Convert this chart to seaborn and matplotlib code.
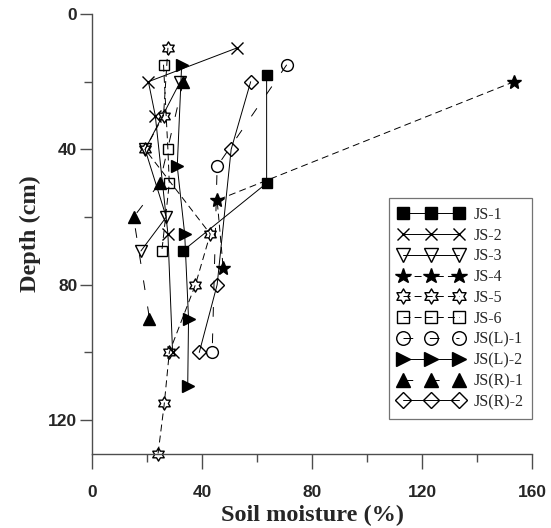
import matplotlib
matplotlib.use("Agg")
from matplotlib import pyplot as plt
from matplotlib.path import Path
from matplotlib.ticker import MultipleLocator
import seaborn as sns

# soil moisture (%) against depth (cm) for each profile
js1_depth = [18, 50, 70]
js1_moisture = [63.5, 63.5, 33.0]

js2_depth = [10, 20, 30, 65, 100]
js2_moisture = [52.8, 20.5, 23.0, 27.6, 29.3]

js3_depth = [20, 40, 60, 70]
js3_moisture = [32.1, 19.3, 27.0, 17.8]

js4_depth = [20, 55, 75]
js4_moisture = [153.5, 45.5, 47.7]

js5_depth = [10, 30, 40, 65, 80, 100, 115, 130]
js5_moisture = [27.6, 26.0, 19.3, 43.0, 37.6, 28.1, 26.3, 24.0]

js6_depth = [15, 40, 50, 70]
js6_moisture = [26.0, 27.6, 28.1, 25.4]

jsl1_depth = [15, 45, 100]
jsl1_moisture = [70.8, 45.5, 43.7]

jsl2_depth = [15, 45, 65, 90, 110]
jsl2_moisture = [32.6, 31.0, 33.7, 35.1, 34.8]

jsr1_depth = [20, 50, 60, 90]
jsr1_moisture = [33.2, 24.6, 15.1, 20.9]

jsr2_depth = [20, 40, 80, 100]
jsr2_moisture = [57.7, 50.6, 45.5, 39.0]

sns.set_style("ticks")
plt.rcParams["font.family"] = ["Liberation Sans", "DejaVu Sans"]
plt.rcParams["lines.scale_dashes"] = False

hexagram = Path.unit_regular_star(6, 0.58)
solid = "-"
short_dash = (0, (5, 3))
long_dash = (0, (7, 12))

# label, x, y, marker, size, filled, linestyle
series = [
    ("JS-1", js1_moisture, js1_depth, "s", 7, True, solid),
    ("JS-2", js2_moisture, js2_depth, "x", 8, False, solid),
    ("JS-3", js3_moisture, js3_depth, "v", 8.5, False, solid),
    ("JS-4", js4_moisture, js4_depth, "*", 10, True, short_dash),
    ("JS-5", js5_moisture, js5_depth, hexagram, 9.5, False, short_dash),
    ("JS-6", js6_moisture, js6_depth, "s", 7, False, short_dash),
    ("JS(L)-1", jsl1_moisture, jsl1_depth, "o", 8.5, False, long_dash),
    ("JS(L)-2", jsl2_moisture, jsl2_depth, ">", 8.5, True, solid),
    ("JS(R)-1", jsr1_moisture, jsr1_depth, "^", 8.5, True, long_dash),
    ("JS(R)-2", jsr2_moisture, jsr2_depth, "D", 7.5, False, solid),
]

fig = plt.figure(figsize=(5.51, 5.28), dpi=100)
ax = fig.add_axes([0.167, 0.1402, 0.7985, 0.8333])

for name, moisture, depth, marker, size, filled, ls in series:
    sns.lineplot(x=moisture, y=depth, ax=ax, sort=False, estimator=None,
                 color="black", linewidth=0.7, linestyle=ls,
                 marker=marker, markersize=size,
                 markerfacecolor="black" if filled else "none",
                 markeredgecolor="black", markeredgewidth=1.0,
                 clip_on=False, label=name, legend=False)

ax.set_xlim(0, 160)
ax.set_ylim(130, 0)
ax.xaxis.set_major_locator(MultipleLocator(40))
ax.xaxis.set_minor_locator(MultipleLocator(20))
ax.yaxis.set_major_locator(MultipleLocator(40))
ax.yaxis.set_minor_locator(MultipleLocator(20))

sns.despine(ax=ax)
for side in ["left", "bottom"]:
    ax.spines[side].set_color("0.3")
    ax.spines[side].set_linewidth(1.0)

ax.tick_params(which="major", length=10.5, width=1, color="0.3")
ax.tick_params(which="minor", length=5.5, width=1, color="0.3")
ax.tick_params(axis="x", which="major", pad=12)
ax.tick_params(axis="y", which="major", length=9, pad=1.5)
for lab in ax.get_xticklabels() + ax.get_yticklabels():
    lab.set_fontsize(12.5)
    lab.set_fontweight("bold")

ax.set_xlabel("Soil moisture (%)", family="Liberation Serif", fontsize=17.5,
              fontweight="bold", labelpad=3)
ax.set_ylabel("Depth (cm)", family="Liberation Serif", fontsize=17.5,
              fontweight="bold", labelpad=5)

leg = ax.legend(loc="lower right", bbox_to_anchor=(1.0, 0.08),
                borderaxespad=0, numpoints=3, handlelength=4.1,
                handletextpad=0.6, labelspacing=0.3, borderpad=0.55,
                markerscale=1.15, fancybox=False, framealpha=1,
                prop={"family": "Liberation Serif", "size": 11.5})
leg.get_frame().set_edgecolor("0.45")
leg.get_frame().set_linewidth(0.9)

plt.savefig("out.png", dpi=100)
plt.close()
